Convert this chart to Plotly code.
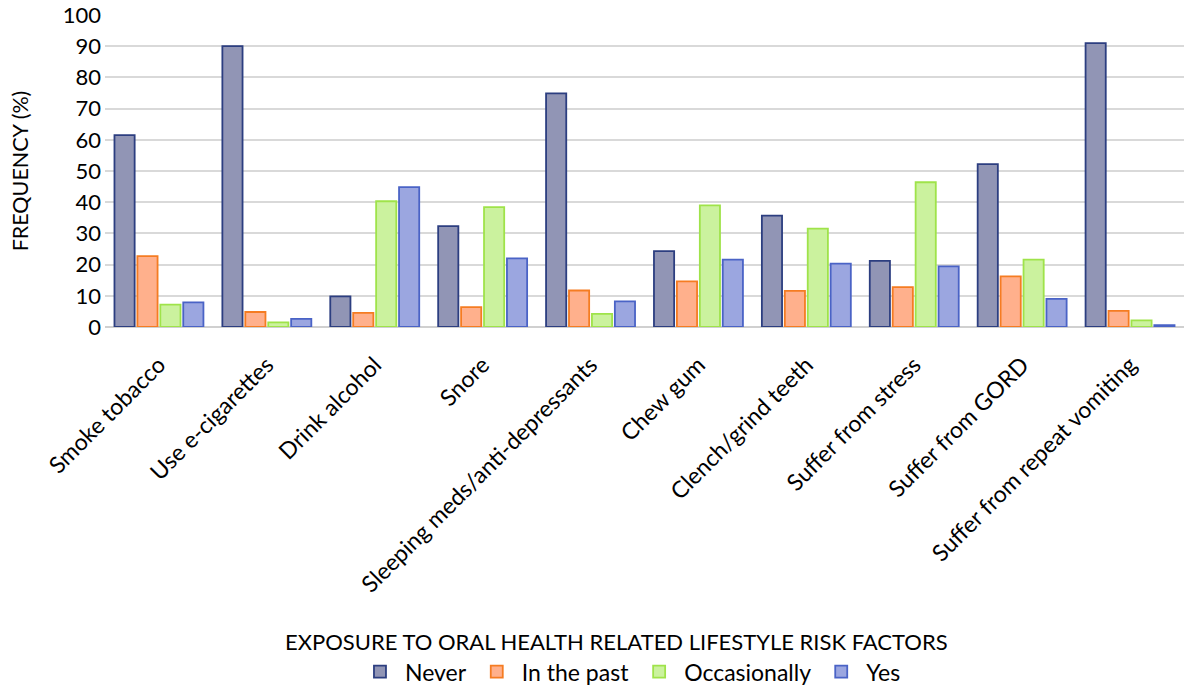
import plotly.graph_objects as go

categories = [
    "Smoke tobacco", "Use e-cigarettes", "Drink alcohol", "Snore",
    "Sleeping meds/anti-depressants", "Chew gum", "Clench/grind teeth",
    "Suffer from stress", "Suffer from GORD", "Suffer from repeat vomiting",
]
never = [61.5, 90.0, 9.8, 32.3, 74.9, 24.3, 35.7, 21.2, 52.2, 91.0]
in_the_past = [22.7, 4.8, 4.5, 6.4, 11.7, 14.6, 11.6, 12.8, 16.2, 5.2]
occasionally = [7.2, 1.5, 40.3, 38.4, 4.2, 39.0, 31.5, 46.4, 21.6, 2.1]
yes = [7.9, 2.6, 44.8, 22.0, 8.2, 21.6, 20.3, 19.4, 9.0, 0.6]

series = [
    ("Never", never, "#9195b5", "#2c3e80"),
    ("In the past", in_the_past, "#ffb08c", "#f57c22"),
    ("Occasionally", occasionally, "#cbf29e", "#9fe34a"),
    ("Yes", yes, "#9ba6e0", "#4a63c6"),
]

FONT = "Lato"

fig = go.Figure()
for name, vals, fill, edge in series:
    fig.add_trace(go.Bar(
        x=categories, y=vals, name=name,
        marker=dict(color=fill, line=dict(color=edge, width=1.8)),
    ))

fig.update_layout(
    width=1184, height=689,
    margin=dict(l=105, r=0, t=15, b=362, autoexpand=False),
    paper_bgcolor="white", plot_bgcolor="white",
    barmode="group", bargap=0.15, bargroupgap=0.12,
    font=dict(family=FONT, color="#000000", size=20),
    showlegend=True,
    legend=dict(
        orientation="h", x=0.487, xanchor="center", y=-1.105, yanchor="middle",
        font=dict(size=23), itemwidth=40, traceorder="normal",
    ),
    xaxis=dict(
        tickangle=-45, tickfont=dict(size=23), showgrid=False,
        showline=False, ticks="", ticklabelstandoff=19, automargin=False,
    ),
    yaxis=dict(
        range=[0, 100], dtick=10, tickfont=dict(size=22),
        showgrid=True, gridcolor="#d9d9d9", gridwidth=1.5,
        zeroline=True, zerolinecolor="#d0d0d0", zerolinewidth=2,
        showline=False, ticks="", ticklabelstandoff=3, automargin=False,
        title=dict(text="FREQUENCY (%)", font=dict(size=21.5), standoff=28),
    ),
    annotations=[dict(
        text="EXPOSURE TO ORAL HEALTH RELATED LIFESTYLE RISK FACTORS",
        xref="paper", yref="paper", x=0.474, y=-1.008,
        xanchor="center", yanchor="middle", showarrow=False,
        font=dict(size=22),
    )],
)

fig.write_html("out.html")
